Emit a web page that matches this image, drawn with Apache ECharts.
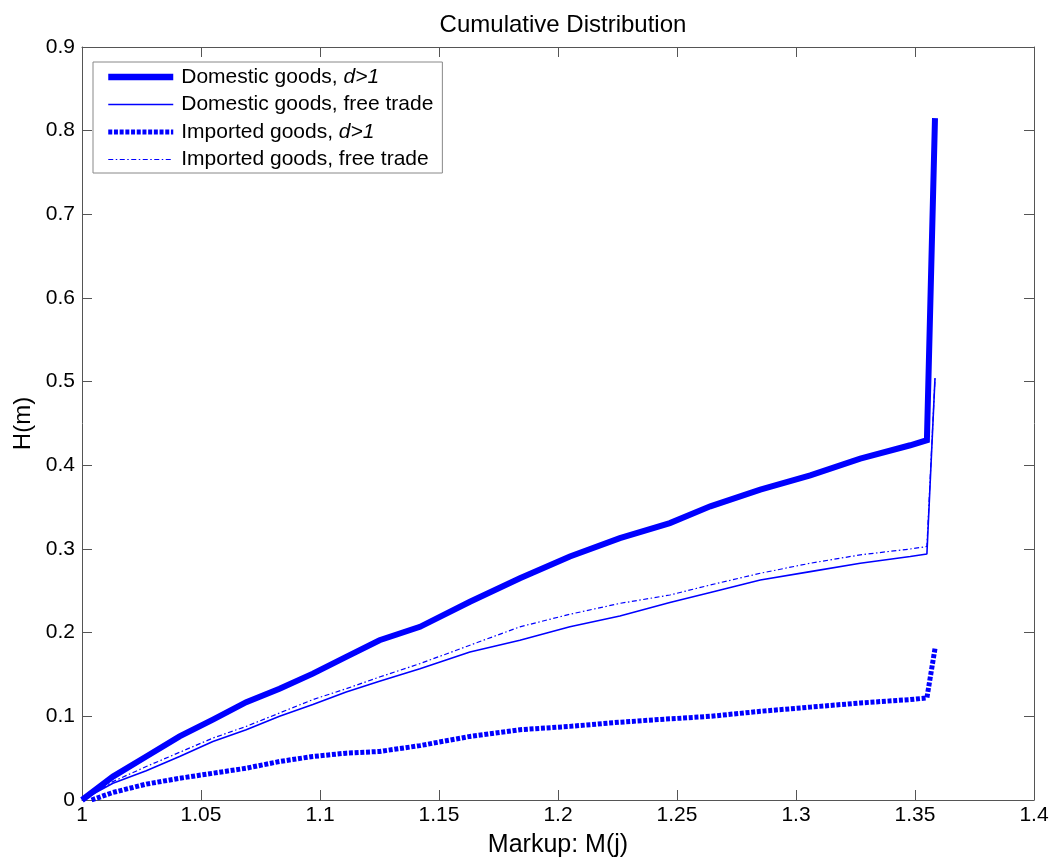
<!DOCTYPE html>
<html>
<head>
<meta charset="utf-8">
<title>Cumulative Distribution</title>
<script src="https://cdn.jsdelivr.net/npm/echarts@6/dist/echarts.min.js"></script>
<style>
  html, body { margin: 0; padding: 0; background: #fff; }
  #chart { width: 1063px; height: 867px; }
</style>
</head>
<body>
<div id="chart"></div>
<script>
// markup values (x) sampled along the curves
const markup = [1.0, 1.013, 1.027, 1.041, 1.055, 1.069, 1.083, 1.097, 1.111, 1.125,
  1.142, 1.163, 1.184, 1.205, 1.226, 1.247, 1.264, 1.285, 1.306, 1.327, 1.348, 1.355, 1.3584];
const markupImported = [1.004, 1.013, 1.027, 1.041, 1.055, 1.069, 1.083, 1.097, 1.111, 1.125,
  1.142, 1.163, 1.184, 1.205, 1.226, 1.247, 1.264, 1.285, 1.306, 1.327, 1.348, 1.355, 1.3584];

// H(m) values
const domesticD = [0, 0.028, 0.052, 0.076, 0.096, 0.117, 0.133, 0.151, 0.171, 0.191,
  0.207, 0.237, 0.265, 0.291, 0.313, 0.331, 0.351, 0.371, 0.388, 0.408, 0.424, 0.430, 0.815];
const domesticFree = [0, 0.020, 0.035, 0.052, 0.070, 0.084, 0.100, 0.114, 0.129, 0.142,
  0.157, 0.177, 0.191, 0.207, 0.220, 0.236, 0.248, 0.263, 0.273, 0.283, 0.291, 0.294, 0.504];
const importedD = [0, 0.009, 0.019, 0.026, 0.032, 0.038, 0.046, 0.052, 0.056, 0.058,
  0.065, 0.076, 0.084, 0.088, 0.093, 0.097, 0.100, 0.106, 0.111, 0.116, 0.120, 0.122, 0.181];
const importedFree = [0, 0.022, 0.040, 0.057, 0.074, 0.088, 0.104, 0.120, 0.133, 0.147,
  0.163, 0.185, 0.207, 0.222, 0.235, 0.245, 0.257, 0.271, 0.283, 0.293, 0.300, 0.303, 0.504];

const seriesNames = [
  "Domestic goods, d>1",
  "Domestic goods, free trade",
  "Imported goods, d>1",
  "Imported goods, free trade"
];

const FONT = "Liberation Sans, Arial, sans-serif";
const AXIS_COLOR = "#555";
const BLUE = "#0000ff";

function pairs(xs, ys) {
  return xs.map((x, i) => [x, ys[i]]);
}

// same scale on all four sides, like a boxed plot
function xAxisCfg(pos, showLabel) {
  return {
    type: "value", position: pos, min: 1, max: 1.4, interval: 0.05,
    name: showLabel ? "Markup: M(j)" : "",
    nameLocation: "middle", nameGap: 33,
    nameTextStyle: { fontFamily: FONT, fontSize: 25, color: "#000" },
    axisLine: { show: true, onZero: false, lineStyle: { color: AXIS_COLOR, width: 1 } },
    axisTick: { show: true, inside: true, length: 10, lineStyle: { color: AXIS_COLOR } },
    axisLabel: { show: showLabel, fontFamily: FONT, fontSize: 21, color: "#000", margin: 5 },
    splitLine: { show: false }
  };
}
function yAxisCfg(pos, showLabel) {
  return {
    type: "value", position: pos, min: 0, max: 0.9, interval: 0.1,
    name: showLabel ? "H(m)" : "",
    nameLocation: "middle", nameGap: 47, nameRotate: 90,
    nameTextStyle: { fontFamily: FONT, fontSize: 24, color: "#000" },
    axisLine: { show: true, onZero: false, lineStyle: { color: AXIS_COLOR, width: 1 } },
    axisTick: { show: true, inside: true, length: 10, lineStyle: { color: AXIS_COLOR } },
    axisLabel: { show: showLabel, fontFamily: FONT, fontSize: 21, color: "#000", margin: 7 },
    splitLine: { show: false }
  };
}

const chart = echarts.init(document.getElementById("chart"), null, { renderer: "canvas" });

const option = {
  animation: false,
  backgroundColor: "#fff",
  title: {
    text: "Cumulative Distribution",
    left: 558, top: 8, textAlign: "center",
    textStyle: { fontFamily: FONT, fontSize: 24, fontWeight: "normal", color: "#000" }
  },
  grid: { left: 82, right: 29, top: 47, bottom: 67, containLabel: false },
  xAxis: [xAxisCfg("bottom", true), xAxisCfg("top", false)],
  yAxis: [yAxisCfg("left", true), yAxisCfg("right", false)],
  legend: {
    orient: "vertical",
    left: 93, top: 62,
    padding: [4.5, 9, 3, 12],
    itemWidth: 65, itemHeight: 12, itemGap: 6.5,
    backgroundColor: "#fff",
    borderColor: "#888", borderWidth: 1, borderRadius: 0,
    selectedMode: false,
    itemStyle: { opacity: 0 },
    textStyle: {
      fontFamily: FONT, fontSize: 21, color: "#000", lineHeight: 21,
      rich: {
        n: { fontFamily: FONT, fontSize: 21, color: "#000", padding: [0, 0, 0, 3] },
        i: { fontFamily: FONT, fontSize: 21, color: "#000", fontStyle: "italic" }
      }
    },
    formatter: function (name) {
      if (name.endsWith("d>1")) {
        return "{n|" + name.slice(0, -3) + "}{i|d>1}";
      }
      return "{n|" + name + "}";
    },
    data: [
      { name: seriesNames[0], lineStyle: { color: BLUE, width: 6.5 } },
      { name: seriesNames[1], lineStyle: { color: BLUE, width: 1.5 } },
      { name: seriesNames[2], lineStyle: { color: BLUE, width: 5, type: [4, 1.7] } },
      { name: seriesNames[3], lineStyle: { color: BLUE, width: 1.2, type: [5, 2.5, 1.5, 2.5] } }
    ]
  },
  series: [
    {
      name: seriesNames[0], type: "line", symbol: "none", showSymbol: false, z: 4,
      lineStyle: { color: BLUE, width: 6, join: "miter" },
      itemStyle: { color: BLUE },
      data: pairs(markup, domesticD)
    },
    {
      name: seriesNames[1], type: "line", symbol: "none", showSymbol: false, z: 3,
      lineStyle: { color: BLUE, width: 1.6 },
      itemStyle: { color: BLUE },
      data: pairs(markup, domesticFree)
    },
    {
      name: seriesNames[2], type: "line", symbol: "none", showSymbol: false, z: 2,
      lineStyle: { color: BLUE, width: 5, type: [4, 1.7], cap: "butt" },
      itemStyle: { color: BLUE },
      data: pairs(markupImported, importedD)
    },
    {
      name: seriesNames[3], type: "line", symbol: "none", showSymbol: false, z: 2,
      lineStyle: { color: BLUE, width: 1.2, type: [5, 2.5, 1.5, 2.5] },
      itemStyle: { color: BLUE },
      data: pairs(markup, importedFree)
    }
  ]
};

chart.setOption(option);
</script>
</body>
</html>
